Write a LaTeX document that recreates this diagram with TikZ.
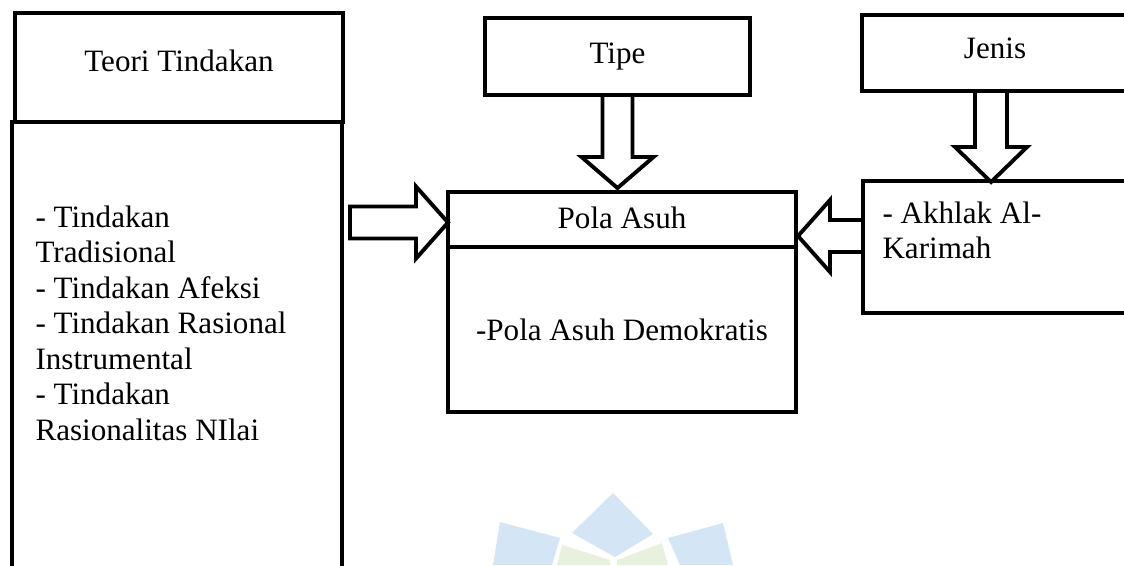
\documentclass[tikz,border=0pt]{standalone}
\usepackage{fontspec}
\setmainfont{Liberation Serif}
\usetikzlibrary{calc}
\newcommand{\px}{0.386pt}
\definecolor{wmblue}{RGB}{212,229,246}
\definecolor{wmgreen}{RGB}{231,241,221}

\begin{document}
\begin{tikzpicture}[x=\px, y=-\px, font=\fontsize{12}{13.7}\selectfont,
        box/.style={draw, line width=1.5pt, inner sep=0pt, outer sep=0pt},
        blockarrow/.style={draw, line width=1.5pt, line join=miter}]
        \useasboundingbox (0,0) rectangle (1124,565);
        \clip (0,0) rectangle (1124,565);
        \fill[wmblue] (613,493) -- (653,534) -- (615,557) -- (572,533) -- cycle;
        \fill[wmblue] (500,522) -- (560,538) -- (552,565) -- (493,565) -- cycle;
        \fill[wmblue] (668,538) -- (723,523) -- (733,565) -- (680,565) -- cycle;
        \fill[wmgreen] (562,545) -- (610,560) -- (610,565) -- (557,565) -- cycle;
        \fill[wmgreen] (617,560) -- (662,543) -- (668,565) -- (617,565) -- cycle;
        \node[box, anchor=north west, minimum width=328*\px, minimum height=109*\px, text depth=5.4pt] (teori) at (15,13) {Teori Tindakan};
        \node[box, anchor=north west, minimum width=330*\px, minimum height=500*\px] (tindakan) at (12,122) {};
        \node[anchor=north west, align=left, inner sep=0pt] (tindakanlist) at (35,205) {- Tindakan\\Tradisional\\- Tindakan Afeksi\\- Tindakan Rasional\\Instrumental\\- Tindakan\\Rasionalitas NIlai};
        \node[box, anchor=north west, minimum width=265*\px, minimum height=77*\px] (tipe) at (485,18) {Tipe};
        \node[box, anchor=north west, minimum width=266*\px, minimum height=76*\px, text depth=3.5pt] (jenis) at (862,15) {Jenis};
        \node[box, anchor=north west, minimum width=348*\px, minimum height=55*\px, text depth=1.5pt] (polatitle) at (448,192) {Pola Asuh};
        \node[box, anchor=north, minimum width=348*\px, minimum height=165*\px] (polabody) at (polatitle.south) {-Pola Asuh Demokratis};
        \node[box, anchor=north west, minimum width=266*\px, minimum height=132*\px] (akhlak) at (863,181) {};
        \node[anchor=north west, align=left, inner sep=0pt] (akhlaktext) at (882,201) {- Akhlak Al-\\Karimah};
        \draw[blockarrow] ($(polatitle.west)+(-98,-13)$) -- ++(66,0) -- ++(0,-20) -- ++(32,36) -- ++(-32,36) -- ++(0,-20) -- ++(-66,0) -- cycle;
        \draw[blockarrow] ($(tipe.south)+(-15,0)$) -- ++(0,62) -- ++(-21,0) -- ++(36,31) -- ++(36,-31) -- ++(-21,0) -- ++(0,-62) -- cycle;
        \draw[blockarrow] ($(jenis.south)+(-20,0)$) -- ++(0,56) -- ++(-20,0) -- ++(36,35) -- ++(36,-35) -- ++(-20,0) -- ++(0,-56) -- cycle;
        \draw[blockarrow] ($(akhlak.west)+(0,-27)$) -- ++(-33,0) -- ++(0,-20) -- ++(-32,36) -- ++(32,36) -- ++(0,-20) -- ++(33,0) -- cycle;
    \end{tikzpicture}
\end{document}
